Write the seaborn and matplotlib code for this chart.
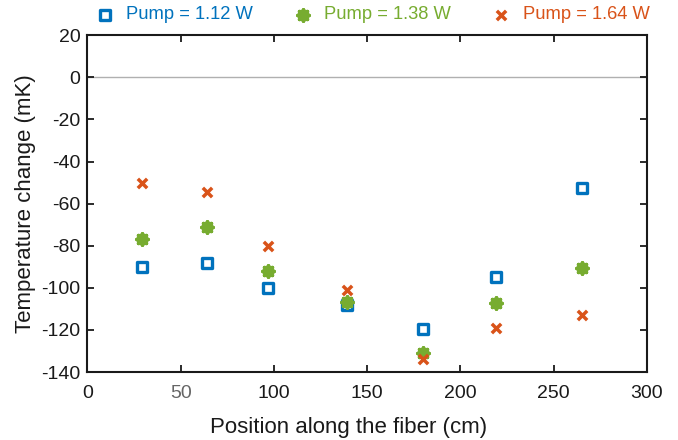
import numpy as np
import pandas as pd
import matplotlib
matplotlib.use("Agg")
import matplotlib.pyplot as plt
import seaborn as sns

# data
position = [29, 64, 97, 139, 180, 219, 265]
temp_112 = [-90, -88, -100.3, -108, -119.4, -95, -52.5]
temp_138 = [-76.9, -71.2, -91.8, -106.6, -131.2, -107.3, -90.8]
temp_164 = [-50.3, -54.3, -80.3, -101, -134, -119, -113]
labels = ["Pump = 1.12 W", "Pump = 1.38 W", "Pump = 1.64 W"]

blue = "#0072BD"
green = "#77AC30"
orange = "#D95319"

sns.set_style("ticks")
plt.rcParams["font.family"] = ["Liberation Sans", "DejaVu Sans"]
plt.rcParams["axes.unicode_minus"] = False

fig = plt.figure(figsize=(6.78, 4.4), dpi=100)
ax = fig.add_axes([0.129, 0.1545, 0.825, 0.7655])

ax.axhline(0, color="#b0b0b0", linewidth=1, zorder=0)

sns.scatterplot(x=position, y=temp_112, ax=ax, marker="s", s=48,
                facecolors="white", edgecolor=blue, linewidth=2.4,
                label=labels[0], zorder=3)
sns.scatterplot(x=position, y=temp_138, ax=ax, marker=(8, 2, 0), s=60,
                color=green, linewidth=2.8, label=labels[1], zorder=3)
sns.scatterplot(x=position, y=temp_164, ax=ax, marker="x", s=45,
                color=orange, linewidth=2.5, label=labels[2], zorder=4)

ax.set_xlim(0, 300)
ax.set_ylim(-140, 20)
ax.set_xticks(np.arange(0, 301, 50))
ax.set_yticks(np.arange(-140, 21, 20))
ax.tick_params(direction="in", top=True, right=True, length=5, width=1.3,
               labelsize=14, colors="#1a1a1a")
ax.tick_params(axis="x", pad=9)
ax.tick_params(axis="y", pad=5)
for sp in ax.spines.values():
    sp.set_visible(True)
    sp.set_linewidth(1.5)
    sp.set_color("#1a1a1a")
# the "50" label is drawn lighter in the original
ax.get_xticklabels()[1].set_color("#666666")

ax.set_xlabel("Position along the fiber (cm)", fontsize=16, labelpad=11, color="#1a1a1a")
ax.xaxis.label.set_x(0.466)
ax.set_ylabel("Temperature change (mK)", fontsize=16, labelpad=4, color="#1a1a1a")

leg = ax.legend(loc="center left", bbox_to_anchor=(-0.015, 1.06), ncol=3,
                frameon=False, fontsize=13.2, handletextpad=0.15,
                columnspacing=1.75, borderaxespad=0)
for txt, c in zip(leg.get_texts(), [blue, green, orange]):
    txt.set_color(c)

fig.savefig("out.png", dpi=100)
